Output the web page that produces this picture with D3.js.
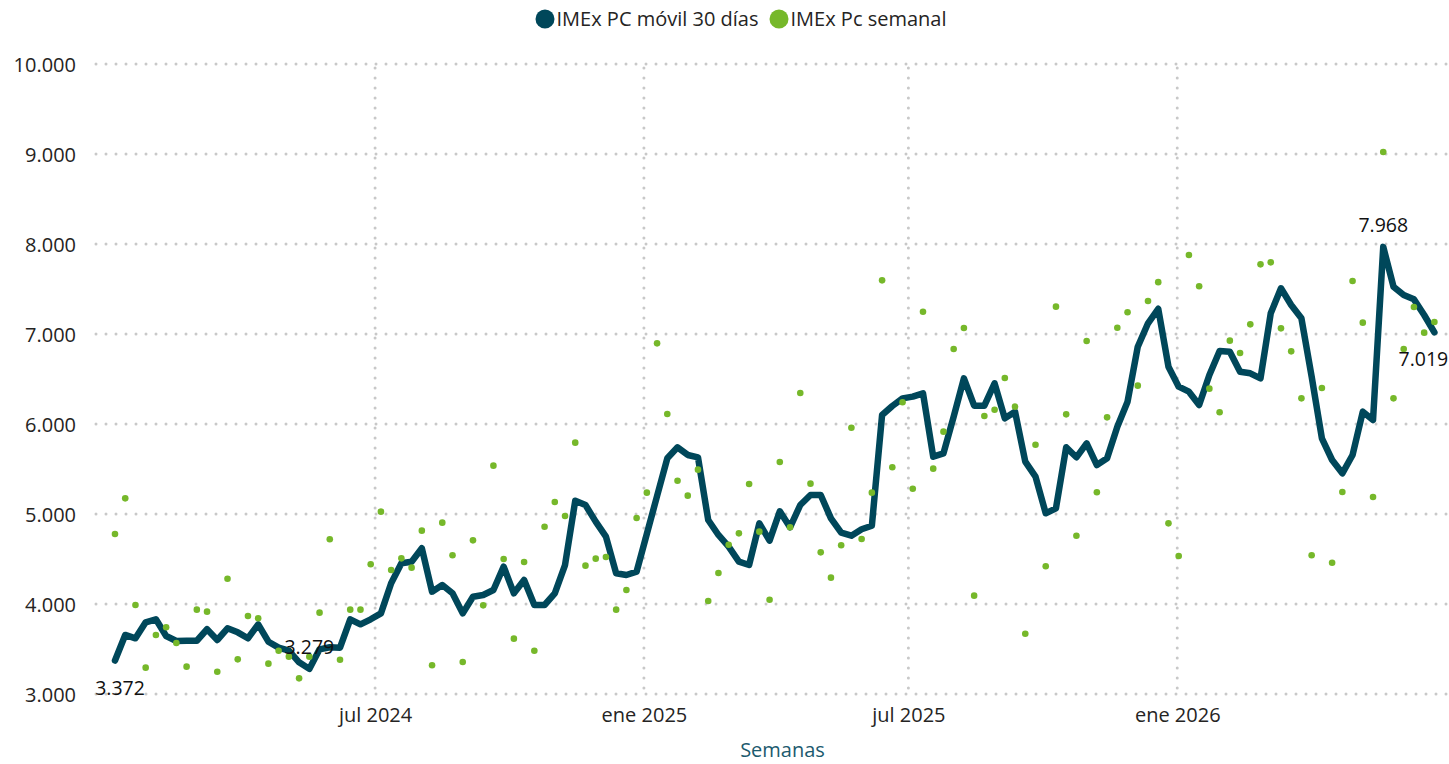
<!DOCTYPE html>
<html>
<head>
<meta charset="utf-8">
<script src="https://cdn.jsdelivr.net/npm/d3@7"></script>
<style>
  html, body { margin: 0; padding: 0; background: #ffffff; }
  svg { display: block; }
  text { font-family: "Open Sans", "Noto Sans", sans-serif; }
</style>
</head>
<body>
<svg id="chart" width="1449" height="764"></svg>
<script>
// ---------- DATA ----------
const weeks = [
  "2024-01-05","2024-01-12","2024-01-19","2024-01-26",
  "2024-02-02","2024-02-09","2024-02-16","2024-02-23",
  "2024-03-01","2024-03-08","2024-03-15","2024-03-22","2024-03-29",
  "2024-04-05","2024-04-12","2024-04-19","2024-04-26",
  "2024-05-03","2024-05-10","2024-05-17","2024-05-24","2024-05-31",
  "2024-06-07","2024-06-14","2024-06-21","2024-06-28",
  "2024-07-05","2024-07-12","2024-07-19","2024-07-26",
  "2024-08-02","2024-08-09","2024-08-16","2024-08-23","2024-08-30",
  "2024-09-06","2024-09-13","2024-09-20","2024-09-27",
  "2024-10-04","2024-10-11","2024-10-18","2024-10-25",
  "2024-11-01","2024-11-08","2024-11-15","2024-11-22","2024-11-29",
  "2024-12-06","2024-12-13","2024-12-20","2024-12-27",
  "2025-01-03","2025-01-10","2025-01-17","2025-01-24","2025-01-31",
  "2025-02-07","2025-02-14","2025-02-21","2025-02-28",
  "2025-03-07","2025-03-14","2025-03-21","2025-03-28",
  "2025-04-04","2025-04-11","2025-04-18","2025-04-25",
  "2025-05-02","2025-05-09","2025-05-16","2025-05-23","2025-05-30",
  "2025-06-06","2025-06-13","2025-06-20","2025-06-27",
  "2025-07-04","2025-07-11","2025-07-18","2025-07-25",
  "2025-08-01","2025-08-08","2025-08-15","2025-08-22","2025-08-29",
  "2025-09-05","2025-09-12","2025-09-19","2025-09-26",
  "2025-10-03","2025-10-10","2025-10-17","2025-10-24","2025-10-31",
  "2025-11-07","2025-11-14","2025-11-21","2025-11-28",
  "2025-12-05","2025-12-12","2025-12-19","2025-12-26",
  "2026-01-02","2026-01-09","2026-01-16","2026-01-23","2026-01-30",
  "2026-02-06","2026-02-13","2026-02-20","2026-02-27",
  "2026-03-06","2026-03-13","2026-03-20","2026-03-27",
  "2026-04-03","2026-04-10","2026-04-17","2026-04-24",
  "2026-05-01","2026-05-08","2026-05-15","2026-05-22","2026-05-29",
  "2026-06-05","2026-06-12","2026-06-19","2026-06-26"
];

const movil30 = [
  3372,3656,3619,3796,3830,3644,3589,3592,3592,3719,
  3600,3730,3685,3619,3774,3581,3515,3481,3352,3279,
  3496,3519,3515,3830,3774,3830,3896,4230,4452,4470,
  4619,4137,4211,4119,3896,4081,4100,4156,4415,4119,
  4267,3989,3989,4119,4433,5148,5100,4915,4748,4341,
  4322,4359,4780,5200,5619,5741,5656,5630,4933,4767,
  4637,4470,4433,4896,4704,5030,4852,5100,5211,5211,
  4952,4793,4759,4830,4870,6100,6200,6285,6304,6341,
  5637,5674,6081,6507,6204,6204,6452,6063,6137,5581,
  5415,5008,5063,5741,5630,5785,5544,5619,5970,6248,
  6859,7119,7280,6637,6415,6359,6211,6544,6811,6803,
  6581,6563,6507,7230,7508,7322,7174,6526,5841,5600,
  5452,5656,6137,6044,7968,7526,7433,7385,7211,7019
];

const semanal = [
  4778,5174,3989,3293,3656,3741,3567,3304,3937,3915,
  3248,4281,3385,3867,3841,3337,3481,3415,3174,3415,
  3904,4719,3381,3937,3937,4441,5026,4378,4507,4404,
  4815,3319,4904,4541,3356,4707,3985,5537,4500,3615,
  4467,3481,4859,5133,4978,5793,4426,4504,4522,3937,
  4156,4956,5237,6896,6111,5370,5204,5493,4033,4344,
  4659,4785,5333,4804,4048,5578,4852,6344,5337,4574,
  4293,4652,5959,4722,5237,7596,5519,6241,5281,7248,
  5504,5915,6833,7067,4093,6089,6159,6511,6193,3670,
  5770,4419,7304,6107,4759,6922,5241,6074,7070,7241,
  6426,7367,7576,4896,4533,7878,7530,6393,6130,6926,
  6789,7107,7774,7796,7063,6807,6285,4541,6400,4459,
  5244,7589,7126,5189,9022,6285,6833,7300,7015,7133
];

const seriesNames = ["IMEx PC móvil 30 días", "IMEx Pc semanal"];
const yTickValues = [3000, 4000, 5000, 6000, 7000, 8000, 9000, 10000];
const xTickDates = ["2024-07-01", "2025-01-01", "2025-07-01", "2026-01-01"];
const xTickLabels = ["jul 2024", "ene 2025", "jul 2025", "ene 2026"];
const xDomainDates = ["2023-12-23", "2026-07-06"];
const yDomain = [3000, 10000];
const xAxisTitle = "Semanas";
// indices of the points that carry a data label, and where the label sits
const labelIdx = [0, 19, 124, 129];
const labelPos = ["below", "above", "above", "below"];

// ---------- STYLE ----------
const colLine = "#00475A";
const colDot = "#76B82A";
const colGrid = "#c8c8c8";
const colText = "#252423";
const colTitle = "#1C5A6E";
const fontSize = 20;
const labelFontSize = 19.5;

// ---------- SETUP ----------
const plot = { left: 96, right: 1449, top: 64, bottom: 694 };
const parse = d3.timeParse("%Y-%m-%d");
const dates = weeks.map(parse);

const esLocale = d3.formatLocale({ decimal: ",", thousands: ".", grouping: [3], currency: ["", ""] });
const fmt = esLocale.format(",d");

const x = d3.scaleTime().domain(xDomainDates.map(parse)).range([plot.left, plot.right]);
const y = d3.scaleLinear().domain(yDomain).range([plot.bottom, plot.top]);

const svg = d3.select("#chart");

// ---------- GRID ----------
const grid = svg.append("g");
grid.selectAll("line.h").data(yTickValues).enter().append("line")
  .attr("x1", plot.left).attr("x2", plot.right)
  .attr("y1", d => y(d)).attr("y2", d => y(d))
  .attr("stroke", colGrid).attr("stroke-width", 3)
  .attr("stroke-linecap", "round").attr("stroke-dasharray", "0 10");

grid.selectAll("line.v").data(xTickDates.map(parse)).enter().append("line")
  .attr("x1", d => x(d)).attr("x2", d => x(d))
  .attr("y1", plot.top + 4).attr("y2", plot.bottom)
  .attr("stroke", colGrid).attr("stroke-width", 3)
  .attr("stroke-linecap", "round").attr("stroke-dasharray", "0 10");

// ---------- AXES ----------
const yAxis = d3.axisLeft(y).tickValues(yTickValues).tickFormat(fmt).tickSize(0).tickPadding(0);
const gy = svg.append("g").attr("transform", `translate(${plot.left - 20},0)`).call(yAxis);
gy.select(".domain").remove();
gy.selectAll("text")
  .attr("font-family", "'Open Sans', 'Noto Sans', sans-serif")
  .attr("font-size", fontSize).attr("fill", colText).attr("dy", "0.35em");

const xAxis = d3.axisBottom(x).tickValues(xTickDates.map(parse))
  .tickFormat((d, i) => xTickLabels[i]).tickSize(0).tickPadding(0);
const gx = svg.append("g").attr("transform", `translate(0,${plot.bottom})`).call(xAxis);
gx.select(".domain").remove();
gx.selectAll("text")
  .attr("font-family", "'Open Sans', 'Noto Sans', sans-serif")
  .attr("font-size", fontSize).attr("fill", colText).attr("y", 0).attr("dy", 28);

svg.append("text")
  .attr("x", (plot.left + 1449) / 2 + 10).attr("y", 757)
  .attr("text-anchor", "middle").attr("font-size", fontSize).attr("fill", colTitle)
  .text(xAxisTitle);

// ---------- LINE ----------
const lineGen = d3.line().x((d, i) => x(dates[i])).y(d => y(d));
svg.append("path").datum(movil30)
  .attr("d", lineGen).attr("fill", "none").attr("stroke", colLine)
  .attr("stroke-width", 6.5).attr("stroke-linejoin", "round").attr("stroke-linecap", "round");

// ---------- DOTS ----------
svg.append("g").selectAll("circle").data(semanal).enter().append("circle")
  .attr("cx", (d, i) => x(dates[i])).attr("cy", d => y(d))
  .attr("r", 3.3).attr("fill", colDot);

// ---------- DATA LABELS ----------
const labelDx = [5, 0, 0, -11];
svg.append("g").selectAll("text").data(labelIdx).enter().append("text")
  .attr("x", (d, k) => x(dates[d]) + labelDx[k])
  .attr("y", (d, k) => y(movil30[d]) + (labelPos[k] === "above" ? -15 : 34))
  .attr("text-anchor", "middle").attr("font-size", labelFontSize).attr("fill", "#111")
  .text(d => fmt(movil30[d]));

// ---------- LEGEND ----------
const legend = svg.append("g");
const items = [{ name: seriesNames[0], color: colLine }, { name: seriesNames[1], color: colDot }];
let cx = 0;
items.forEach((it, i) => {
  const g = legend.append("g").attr("transform", `translate(${cx},0)`);
  g.append("circle").attr("cx", 9.5).attr("cy", 19).attr("r", 9.5).attr("fill", it.color);
  const t = g.append("text").attr("x", 21).attr("y", 19).attr("dy", "0.35em")
    .attr("font-size", fontSize).attr("fill", colText).text(it.name);
  cx += 21 + t.node().getComputedTextLength() + 11;
});
const legendW = cx - 11;
legend.attr("transform", `translate(${741 - legendW / 2},0)`);
</script>
</body>
</html>
